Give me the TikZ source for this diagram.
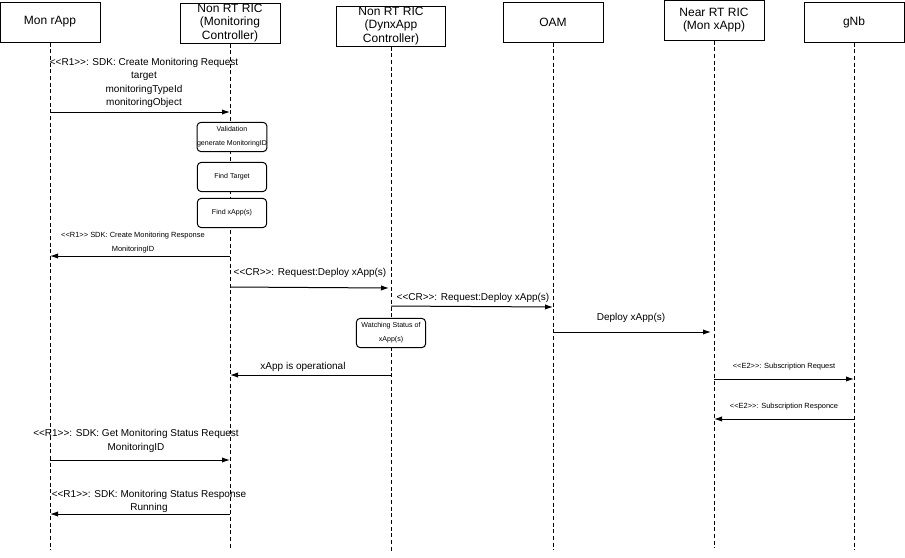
\documentclass[tikz,border=0pt]{standalone}
\usepackage{fontspec}
\setmainfont{Liberation Sans}[Ligatures=TeXOff]
\usetikzlibrary{arrows.meta}
\begin{document}
\begin{tikzpicture}[x=0.75pt,y=-0.75pt,
  head/.style={draw,line width=0.75pt,minimum width=75pt,minimum height=30pt,inner sep=0pt,align=center,font=\fontsize{9}{10}\selectfont},
  life/.style={densely dashed,line width=0.6pt},
  msg/.style={-{Latex[length=6pt,width=4pt]},line width=0.75pt},
  lab/.style={font=\fontsize{7.5}{10}\selectfont,align=center,inner sep=0pt},
  slab/.style={font=\fontsize{5.6}{10.5}\selectfont,align=center,inner sep=0pt},
  act/.style={draw,line width=0.75pt,rounded corners=3pt,fill=white,minimum width=52pt,minimum height=22pt,inner sep=0pt,align=center,font=\fontsize{5.3}{10.5}\selectfont}]
\useasboundingbox (0,0) rectangle (905,557);
\node[head] (h1) at (50,22) {Mon rApp};
\node[head] (h2) at (230,23) {Non RT RIC\\(Monitoring\\Controller)};
\node[head,minimum width=82pt] (h3) at (391,26) {Non RT RIC\\(DynxApp\\Controller)};
\node[head] (h4) at (553,22) {OAM};
\node[head] (h5) at (714,20) {Near RT RIC\\(Mon xApp)};
\node[head] (h6) at (854,22) {gNb};
\coordinate (e1) at (50,550); \coordinate (e2) at (230,550);
\coordinate (e3) at (391,553); \coordinate (e4) at (553,550);
\coordinate (e5) at (714,548); \coordinate (e6) at (854,550);
\foreach \i in {1,...,6} \draw[life] (h\i.south) -- (e\i);
\foreach \n/\x/\y in {a1/50/112,a2/230/112,b1/230/256,b2/50/256,c1/230/287,c2/389/288,
  d1/391/306,d2/553/307,f1/553/332,f2/711/332,g1/391/375,g2/230/375,
  k1/714/379,k2/854/379,m1/854/419,m2/714/419,n1/50/460,n2/230/460,p1/230/514,p2/50/514}
  \coordinate (\n) at (\x,\y);
\node[lab] (l1) at (144,83) {<<R1>>: SDK: Create Monitoring Request\\target\\monitoringTypeId\\monitoringObject};
\draw[msg] (a1) -- (a2);
\node[act] (v) at (232,137) {Validation\\generate MonitoringID};
\node[act] (t) at (232,177) {Find Target};
\node[act] (x) at (232,213) {Find xApp(s)};
\node[slab] (l2) at (133,243) {<<R1>> SDK: Create Monitoring Response\\MonitoringID};
\draw[msg] (b1) -- (b2);
\node[lab] (l3) at (310,273) {<<CR>>: Request:Deploy xApp(s)};
\draw[msg] (c1) -- (c2);
\node[lab] (l4) at (473,298) {<<CR>>: Request:Deploy xApp(s)};
\draw[msg] (d1) -- (d2);
\node[act,minimum width=52pt] (w) at (391,333) {Watching Status of\\xApp(s)};
\node[lab] (l5) at (631,318) {Deploy xApp(s)};
\draw[msg] (f1) -- (f2);
\node[lab] (l6) at (303,367) {xApp is operational};
\draw[msg] (g1) -- (g2);
\node[slab] (l7) at (784,367) {<<E2>>: Subscription Request};
\draw[msg] (k1) -- (k2);
\node[slab] (l8) at (784,407) {<<E2>>: Subscription Responce};
\draw[msg] (m1) -- (m2);
\node[lab] (l9) at (136,441) {<<R1>>: SDK: Get Monitoring Status Request\\MonitoringID};
\draw[msg] (n1) -- (n2);
\node[lab] (l10) at (149,501.5) {<<R1>>: SDK: Monitoring Status Response\\Running};
\draw[msg] (p1) -- (p2);
\end{tikzpicture}
\end{document}
